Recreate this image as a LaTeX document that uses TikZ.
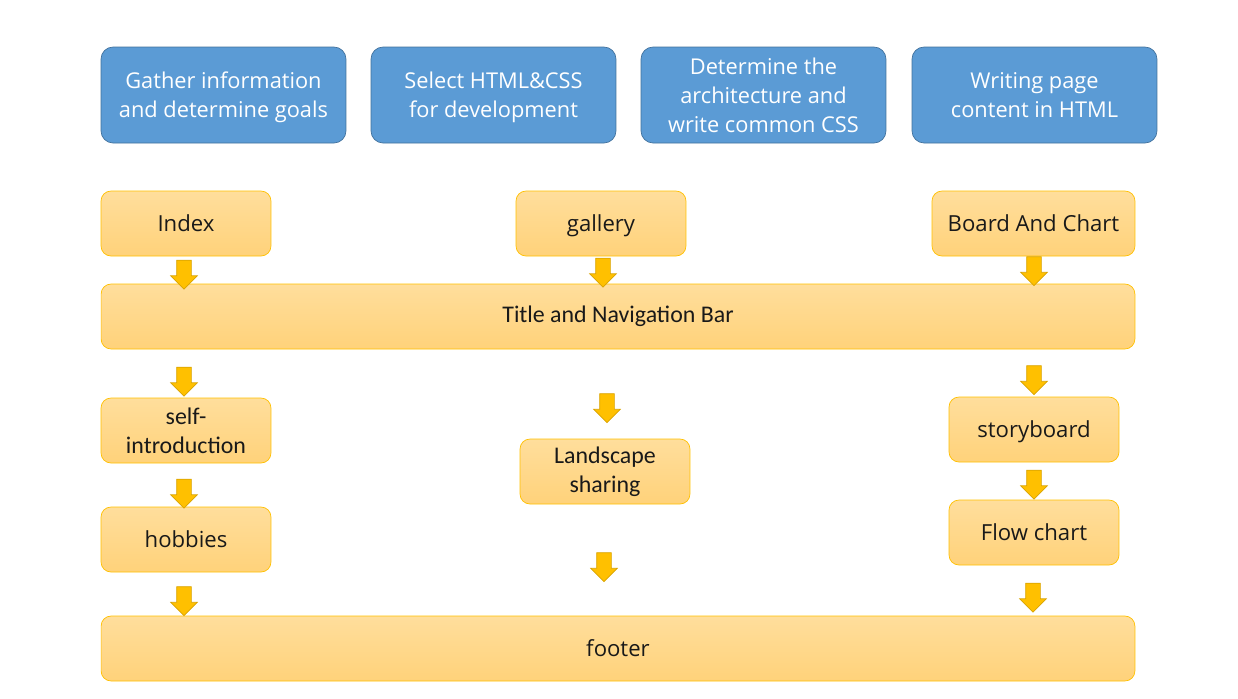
\documentclass[tikz,border=0pt]{standalone}
\usepackage{fontspec}
\setmainfont{Open Sans}
\newfontfamily\calfont{Carlito}
\usetikzlibrary{shapes.arrows}
\definecolor{stepblue}{HTML}{5B9BD5}
\definecolor{stepblueline}{HTML}{41719C}
\definecolor{boxtop}{HTML}{FFDE9C}
\definecolor{boxbottom}{HTML}{FFD27A}
\definecolor{boxline}{HTML}{FFC000}
\definecolor{arrowfill}{HTML}{FFC000}
\definecolor{arrowline}{HTML}{D9A300}

\begin{document}
\begin{tikzpicture}[x=0.02cm,y=-0.02cm,
		goal/.style={rectangle,rounded corners=0.24cm,draw=stepblueline,fill=stepblue,
			text=white,minimum width=4.9cm,minimum height=1.92cm,align=center,
			text depth=-0.25em,font=\fontsize{12.4}{16.4}\selectfont},
		page/.style={rectangle,rounded corners=0.2cm,draw=boxline,top color=boxtop,
			bottom color=boxbottom,minimum height=1.3cm,minimum width=3.4cm,align=center,
			text=black!90,text height=0.9em,text depth=0em,
			font=\fontsize{12.6}{16.4}\selectfont},
		calpage/.style={page,text height={},text depth={},
			font=\calfont\fontsize{13.6}{16.4}\selectfont},
		downarrow/.style={single arrow,draw=arrowline,fill=arrowfill,rotate=-90,
			inner sep=0.14cm,minimum height=0.58cm,minimum width=0.52cm,
			single arrow head extend=0.12cm,single arrow head indent=0pt}]
		\useasboundingbox (0,0) rectangle (1238,698);
		% steps
		\node[goal](gather) at (223.5,95){Gather information\\and determine goals};
		\node[goal](select) at (493.5,95){Select HTML\&CSS\\for development};
		\node[goal](arch) at (763.5,95){Determine the\\architecture and\\write common CSS};
		\node[goal](write) at (1034.5,95){Writing page\\content in HTML};
		% pages
		\node[page](index) at (186,223.5){Index};
		\node[page](gallery) at (601,223.5){gallery};
		\node[page,minimum width=4.06cm](board) at (1033.5,223.5){Board And Chart};
		\node[calpage,minimum width=20.68cm](title) at (618,316.5){Title and Navigation Bar};
		\node[calpage](intro) at (186,430.5){self-\\introduction};
		\node[calpage](landscape) at (605,471.5){Landscape\\sharing};
		\node[page](story) at (1034,429.5){storyboard};
		\node[page](hobbies) at (186,539.5){hobbies};
		\node[page](flow) at (1034,532.5){Flow chart};
		\node[page,minimum width=20.68cm](footer) at (618,648.5){footer};
		% arrows
		\node[downarrow](a1) at (184,271){};
		\node[downarrow](a2) at (603,269){};
		\node[downarrow](a3) at (1034,267.5){};
		\node[downarrow](a4) at (184,378){};
		\node[downarrow](a5) at (607,404.5){};
		\node[downarrow](a6) at (1034,376.5){};
		\node[downarrow](a7) at (184,490){};
		\node[downarrow](a8) at (1034,481){};
		\node[downarrow](a9) at (184,597.5){};
		\node[downarrow](a10) at (604,563.5){};
		\node[downarrow](a11) at (1033,594){};
	\end{tikzpicture}
\end{document}
